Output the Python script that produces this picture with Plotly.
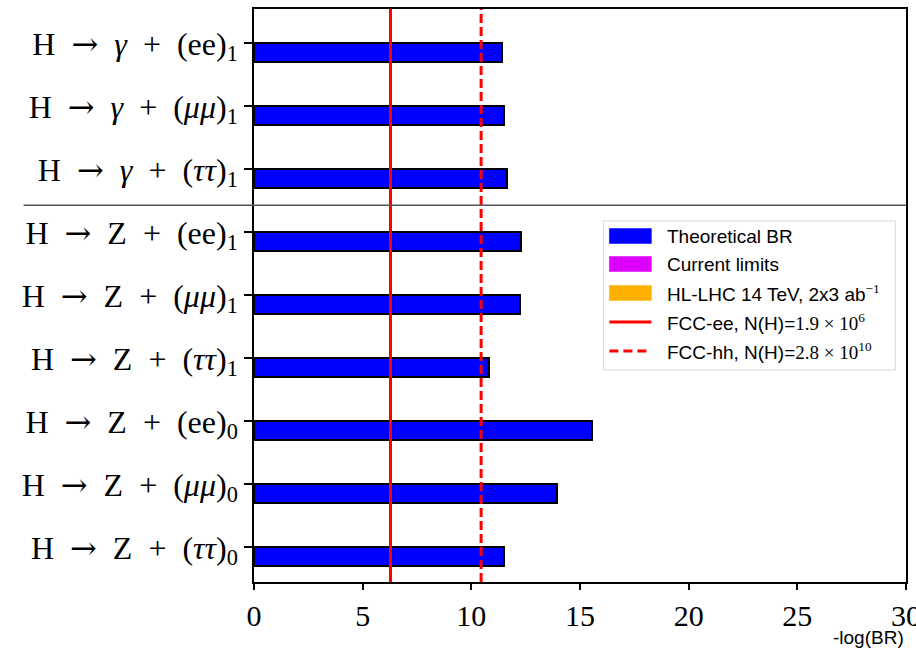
import plotly.graph_objects as go

# ---------------- data ----------------
SP = "\u2002"
ARROW = "<span style='font-family:DejaVu Serif'>→</span>"
channels = [
    f"H{SP}{ARROW}{SP}<i>γ</i>{SP}+{SP}(ee)<sub>1</sub>",
    f"H{SP}{ARROW}{SP}<i>γ</i>{SP}+{SP}(<i>μμ</i>)<sub>1</sub>",
    f"H{SP}{ARROW}{SP}<i>γ</i>{SP}+{SP}(<i>ττ</i>)<sub>1</sub>",
    f"H{SP}{ARROW}{SP}Z{SP}+{SP}(ee)<sub>1</sub>",
    f"H{SP}{ARROW}{SP}Z{SP}+{SP}(<i>μμ</i>)<sub>1</sub>",
    f"H{SP}{ARROW}{SP}Z{SP}+{SP}(<i>ττ</i>)<sub>1</sub>",
    f"H{SP}{ARROW}{SP}Z{SP}+{SP}(ee)<sub>0</sub>",
    f"H{SP}{ARROW}{SP}Z{SP}+{SP}(<i>μμ</i>)<sub>0</sub>",
    f"H{SP}{ARROW}{SP}Z{SP}+{SP}(<i>ττ</i>)<sub>0</sub>",
]
neg_log_br = [11.43, 11.48, 11.63, 12.29, 12.23, 10.83, 15.57, 13.93, 11.48]

sensitivity_names = ["FCC-ee", "FCC-hh"]
sensitivity_values = [6.28, 10.45]
sensitivity_dash = ["solid", "9px,4px"]

legend_labels = [
    "Theoretical BR",
    "Current limits",
    "HL-LHC 14 TeV, 2x3 ab<sup><span style='font-family:Liberation Serif'>−1</span></sup>",
    "FCC-ee, N(H)=<span style='font-family:Liberation Serif'>1.9 × 10<sup>6</sup></span>",
    "FCC-hh, N(H)=<span style='font-family:Liberation Serif'>2.8 × 10<sup>10</sup></span>",
]
legend_colors = ["#0000ff", "#dd00ff", "#ffb000", "#ff0000", "#ff0000"]
legend_kinds = ["patch", "patch", "patch", "solid", "dash"]

x_ticks = [0, 5, 10, 15, 20, 25, 30]

# ---------------- layout geometry ----------------
W, H = 916, 655
L, R, T, B = 253.5, 905.7, 9, 582

n = len(channels)
ypos = list(range(n - 1, -1, -1))  # top row highest

def px(xp):
    return (xp - L) / (R - L)

def py(yp):
    return (B - yp) / (B - T)

fig = go.Figure()

fig.add_trace(go.Bar(
    y=ypos, x=neg_log_br, orientation="h",
    width=0.3, offset=-0.3,
    marker=dict(color="#0000ff", line=dict(color="black", width=2)),
    showlegend=False, hoverinfo="x",
))

for v, d in zip(sensitivity_values, sensitivity_dash):
    fig.add_shape(type="line", xref="x", yref="paper", x0=v, x1=v, y0=0, y1=1,
                  line=dict(color="#ff0000", width=3, dash=d), layer="above")

# separator between photon and Z channels
fig.add_shape(type="line", xref="paper", yref="y", x0=px(23), x1=1, y0=5.43, y1=5.43,
              line=dict(color="#555555", width=1.6), layer="above")

# manual legend
fig.add_shape(type="rect", xref="paper", yref="paper",
              x0=px(603), x1=px(895), y0=py(370), y1=py(221),
              line=dict(color="#d9d9d9", width=1), fillcolor="rgba(255,255,255,0.85)",
              layer="above")
row_y = [236, 264, 293, 322, 351]
for lab, col, kind, yy in zip(legend_labels, legend_colors, legend_kinds, row_y):
    if kind == "patch":
        fig.add_shape(type="rect", xref="paper", yref="paper",
                      x0=px(609), x1=px(651), y0=py(yy + 7.5), y1=py(yy - 7.5),
                      line=dict(color=col, width=0.5), fillcolor=col, layer="above")
    else:
        fig.add_shape(type="line", xref="paper", yref="paper",
                      x0=px(609), x1=px(651), y0=py(yy), y1=py(yy),
                      line=dict(color=col, width=3,
                                dash="solid" if kind == "solid" else "9px,5px"),
                      layer="above")
    fig.add_annotation(xref="paper", yref="paper", x=px(665), y=py(yy),
                       text=lab, showarrow=False, xanchor="left", yanchor="middle",
                       font=dict(family="Liberation Sans", size=19, color="black"))

fig.add_annotation(xref="paper", yref="paper", x=1, y=py(637), text="-log(BR)",
                   showarrow=False, xanchor="right", yanchor="middle",
                   font=dict(family="Liberation Sans", size=19, color="black"))

fig.update_layout(
    width=W, height=H,
    margin=dict(l=L, r=W - R, t=T, b=H - B, pad=0, autoexpand=False),
    plot_bgcolor="white", paper_bgcolor="white",
    bargap=0,
    xaxis=dict(range=[0, 30], tickvals=x_ticks, ticks="outside", ticklen=6, tickwidth=1.5,
               tickcolor="black", showline=True, linecolor="black", linewidth=1.5,
               mirror=True, showgrid=False, zeroline=False, ticklabeloverflow="allow",
               automargin=False,
               tickfont=dict(family="Liberation Serif", size=30, color="black")),
    yaxis=dict(range=[-0.55, 8.545], tickvals=ypos, ticktext=channels,
               ticks="outside", ticklen=8, tickwidth=1.5, tickcolor="black",
               showline=True, linecolor="black", linewidth=1.5, mirror=True,
               showgrid=False, zeroline=False, automargin=False,
               tickfont=dict(family="Liberation Serif", size=32, color="black")),
)

fig.write_html("out.html")
